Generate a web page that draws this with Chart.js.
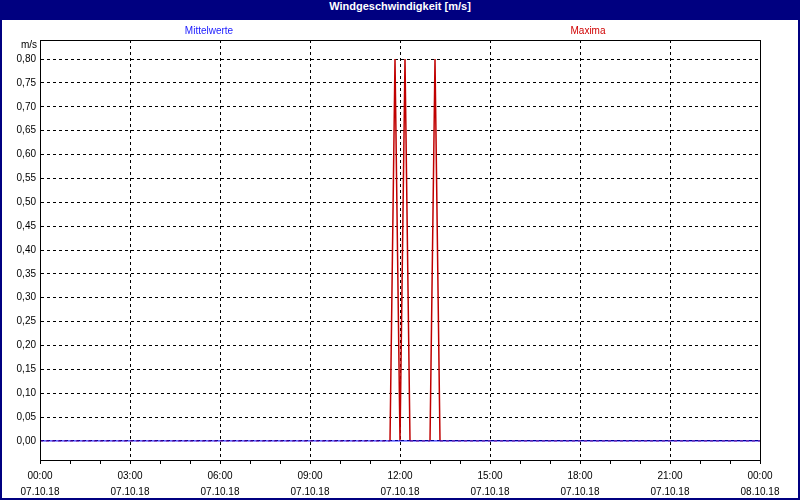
<!DOCTYPE html>
<html>
<head>
<meta charset="utf-8">
<script src="https://cdn.jsdelivr.net/npm/chart.js@4"></script>
<style>
  html, body { margin: 0; padding: 0; background: #fff; }
  #frame { width: 800px; height: 500px; box-sizing: border-box; border: 2px solid #000080; border-top: 0; position: relative; }
  #title { height: 20px; line-height: 20px; background: #000080; color: #fff; text-align: center;
           font: bold 11px "Liberation Sans", sans-serif; margin: 0 -2px; }
  canvas { display: block; }
</style>
</head>
<body>
<div id="frame">
  <div id="title">Windgeschwindigkeit [m/s]</div>
  <canvas id="windChart" width="796" height="478"></canvas>
</div>
<script>
// Messzeiten (07.10.18), Werte in m/s
const maxTimes = ['00:00', '11:40', '11:50', '12:00', '12:10', '12:20', '13:00', '13:10', '13:20', '24:00'];
const maxValues = [0, 0, 0.80, 0, 0.80, 0, 0, 0.80, 0, 0];
const meanTimes = ['00:00', '24:00'];
const meanValues = [0, 0];

const yTicks = [0, 0.05, 0.10, 0.15, 0.20, 0.25, 0.30, 0.35, 0.40, 0.45, 0.50, 0.55, 0.60, 0.65, 0.70, 0.75, 0.80];
const xTickHours = [0, 3, 6, 9, 12, 15, 18, 21, 24];
const xTickTimes = ['00:00', '03:00', '06:00', '09:00', '12:00', '15:00', '18:00', '21:00', '00:00'];
const xTickDates = ['07.10.18', '07.10.18', '07.10.18', '07.10.18', '07.10.18', '07.10.18', '07.10.18', '07.10.18', '08.10.18'];

const FONT = '"Liberation Sans", sans-serif';

function toHours(t) {
    const p = t.split(':');
    return parseInt(p[0]) + parseInt(p[1]) / 60;
}

function toPoints(times, values) {
    return times.map((t, i) => ({ x: toHours(t), y: values[i] }));
}

// Rahmen und Beschriftungen
const extras = {
    id: 'extras',
    afterDraw(chart) {
        const ctx = chart.ctx;
        const a = chart.chartArea;
        ctx.save();
        ctx.strokeStyle = '#000';
        ctx.lineWidth = 1;
        ctx.strokeRect(Math.round(a.left) + 0.5, Math.round(a.top) + 0.5, Math.round(a.right - a.left), Math.round(a.bottom - a.top));
        ctx.font = '10px ' + FONT;
        ctx.textBaseline = 'middle';
        ctx.textAlign = 'center';
        ctx.fillStyle = '#2020ff';
        ctx.fillText('Mittelwerte', 207, 11);
        ctx.fillStyle = '#d00000';
        ctx.fillText('Maxima', 586, 11);
        ctx.fillStyle = '#000';
        ctx.textAlign = 'right';
        ctx.fillText('m/s', 35, 25);
        ctx.restore();
    }
};

new Chart(document.getElementById('windChart'), {
    type: 'line',
    data: {
        datasets: [{
            label: 'Mittelwerte',
            data: toPoints(meanTimes, meanValues),
            borderColor: '#0000ff',
            borderWidth: 1,
            pointRadius: 0,
            tension: 0
        }, {
            label: 'Maxima',
            data: toPoints(maxTimes, maxValues),
            borderColor: '#c00000',
            borderWidth: 1.5,
            pointRadius: 0,
            tension: 0,
            segment: {
                borderDash: ctx => (ctx.p0.parsed.y === 0 && ctx.p1.parsed.y === 0) ? [3, 3] : undefined,
                borderWidth: ctx => (ctx.p0.parsed.y === 0 && ctx.p1.parsed.y === 0) ? 1 : undefined
            }
        }]
    },
    options: {
        responsive: false,
        animation: false,
        layout: { padding: { top: 20, right: 38, left: 0, bottom: 0 } },
        plugins: { legend: { display: false }, title: { display: false }, tooltip: { enabled: false } },
        scales: {
            x: {
                type: 'linear',
                min: 0,
                max: 24,
                afterFit: s => { s.height = 38; },
                afterBuildTicks: s => { s.ticks = Array.from({ length: 25 }, (_, h) => ({ value: h })); },
                border: { display: true, color: '#000', width: 1, dash: [3, 3] },
                grid: {
                    color: c => (c.tick && c.tick.value % 3 === 0 && c.tick.value > 0 && c.tick.value < 24) ? '#000' : 'rgba(0,0,0,0)',
                    tickColor: '#000',
                    tickLength: 4,
                    tickBorderDash: [],
                    lineWidth: 1
                },
                ticks: {
                    autoSkip: false,
                    maxRotation: 0,
                    padding: 4,
                    color: '#000',
                    font: { family: FONT, size: 10, lineHeight: 1.6 },
                    callback: v => {
                        const i = xTickHours.indexOf(v);
                        return i < 0 ? '' : [xTickTimes[i], xTickDates[i]];
                    }
                }
            },
            y: {
                min: -0.04,
                max: 0.84,
                afterFit: s => { s.width = 38; },
                afterBuildTicks: s => { s.ticks = yTicks.map(v => ({ value: v })); },
                border: { display: true, color: '#000', width: 1, dash: [3, 3] },
                grid: {
                    color: '#000',
                    tickColor: 'rgba(0,0,0,0)',
                    tickLength: 4,
                    lineWidth: 1
                },
                ticks: {
                    padding: 0,
                    color: '#000',
                    font: { family: FONT, size: 10 },
                    callback: v => v.toFixed(2).replace('.', ',')
                }
            }
        }
    },
    plugins: [extras]
});
</script>
</body>
</html>
